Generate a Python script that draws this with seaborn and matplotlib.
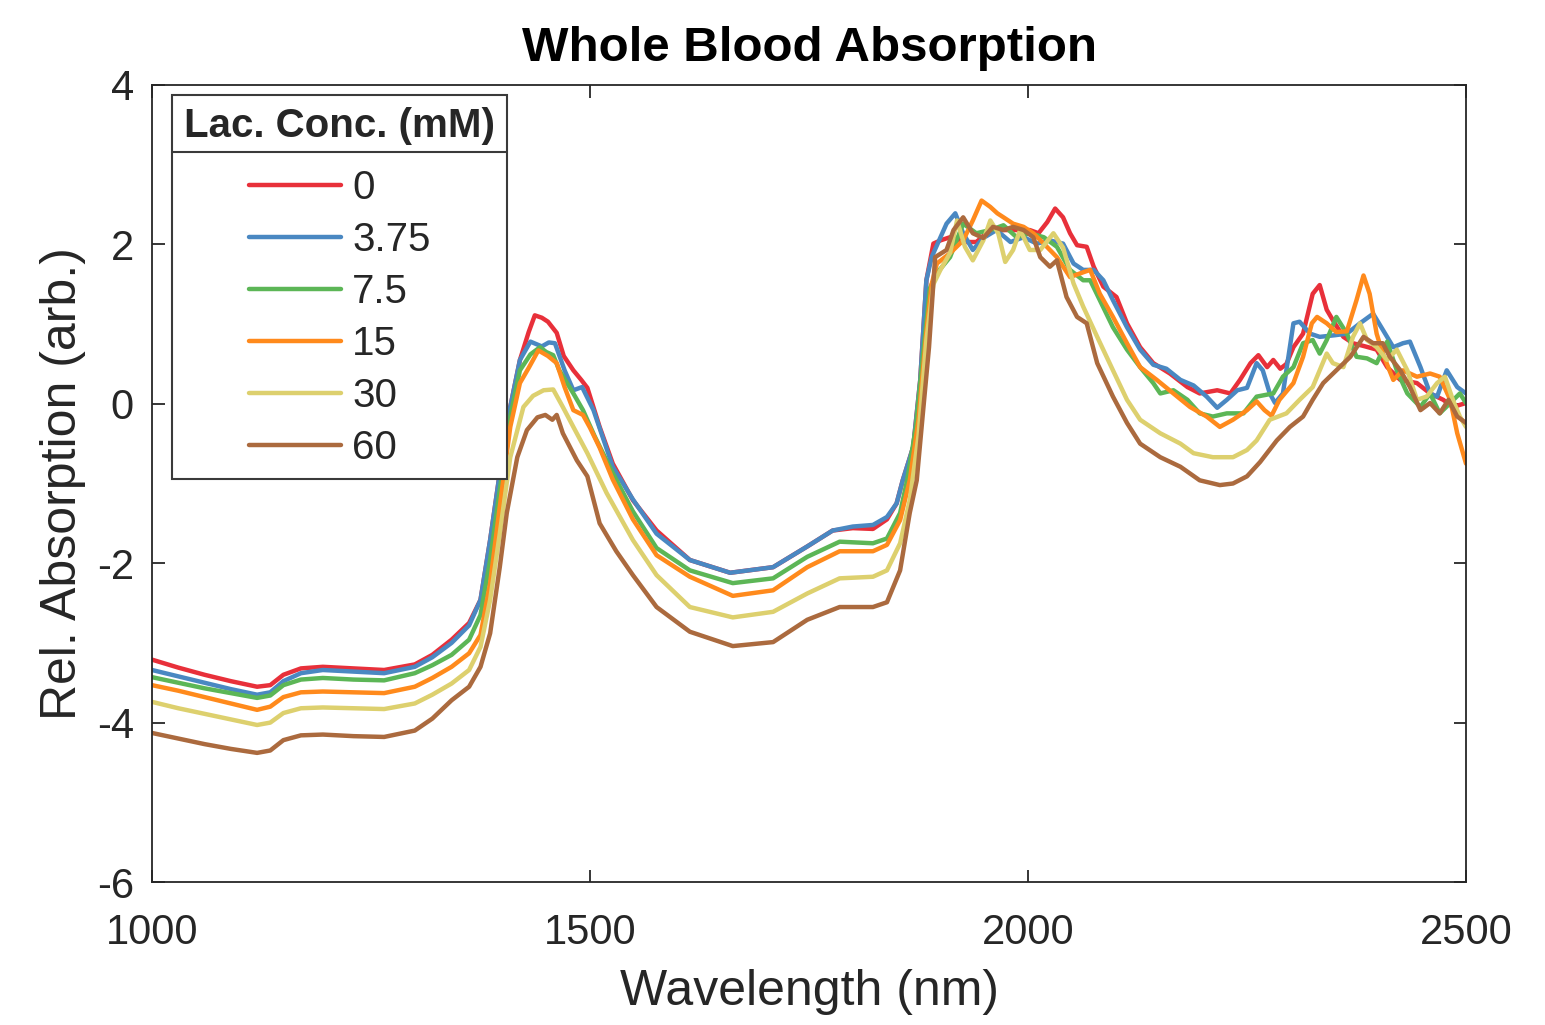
import matplotlib
matplotlib.use("Agg")
import matplotlib.pyplot as plt
import seaborn as sns
import pandas as pd
from matplotlib.lines import Line2D

# ---------------- data ----------------
concentrations = ["0", "3.75", "7.5", "15", "30", "60"]
colors = ["#E8303A", "#4A88C2", "#5CB656", "#FF8A1C", "#DDD06E", "#AB6A3E"]

wl_0 = [1000, 1030, 1060, 1090, 1120, 1135, 1150, 1170, 1195, 1230, 1265, 1300, 1320, 1342, 1362, 1375, 1386, 1397,
        1409, 1420, 1430, 1437, 1445, 1452, 1462, 1470, 1481, 1490, 1497, 1511, 1526, 1549, 1576, 1614, 1660, 1709,
        1748, 1777, 1800, 1823, 1839, 1850, 1857, 1869, 1877, 1884, 1892, 1900, 1911, 1930, 1941, 1957, 1987, 2002,
        2012, 2022, 2031, 2040, 2048, 2056, 2067, 2075, 2086, 2101, 2113, 2128, 2143, 2162, 2182, 2196, 2216, 2231,
        2242, 2254, 2263, 2273, 2280, 2288, 2295, 2303, 2314, 2325, 2333, 2341, 2348, 2360, 2371, 2385, 2398, 2410,
        2425, 2444, 2459, 2474, 2485, 2500]
abs_0 = [-3.21, -3.31, -3.40, -3.48, -3.55, -3.53, -3.40, -3.32, -3.30, -3.32, -3.34, -3.27, -3.15, -2.96, -2.75,
         -2.46, -1.71, -0.87, -0.04, 0.55, 0.90, 1.11, 1.08, 1.03, 0.89, 0.60, 0.42, 0.30, 0.20, -0.29, -0.75, -1.21,
         -1.59, -1.96, -2.12, -2.05, -1.79, -1.59, -1.56, -1.57, -1.45, -1.25, -0.96, -0.54, 0.30, 1.55, 2.01, 2.05,
         2.09, 2.03, 2.03, 2.18, 2.18, 2.18, 2.14, 2.28, 2.45, 2.34, 2.14, 1.99, 1.97, 1.72, 1.47, 1.34, 1.01, 0.71,
         0.51, 0.38, 0.21, 0.13, 0.17, 0.13, 0.30, 0.51, 0.61, 0.46, 0.55, 0.44, 0.50, 0.71, 0.88, 1.38, 1.49, 1.18,
         1.05, 0.84, 0.76, 0.72, 0.68, 0.46, 0.30, 0.26, 0.13, 0.05, -0.04, 0.01]

wl_375 = [1000, 1030, 1060, 1090, 1120, 1135, 1150, 1170, 1195, 1230, 1265, 1300, 1320, 1342, 1362, 1375, 1386, 1397,
          1409, 1420, 1432, 1445, 1453, 1460, 1471, 1481, 1491, 1504, 1526, 1549, 1576, 1614, 1660, 1709, 1748, 1777,
          1800, 1823, 1839, 1850, 1857, 1869, 1877, 1884, 1890, 1907, 1917, 1926, 1937, 1949, 1964, 1980, 1995, 2010,
          2025, 2040, 2052, 2063, 2075, 2086, 2097, 2113, 2128, 2143, 2158, 2174, 2189, 2204, 2216, 2227, 2239, 2250,
          2261, 2268, 2276, 2282, 2291, 2303, 2310, 2322, 2333, 2350, 2364, 2379, 2394, 2405, 2417, 2428, 2436, 2448,
          2459, 2467, 2478, 2490, 2500]
abs_375 = [-3.34, -3.42, -3.50, -3.58, -3.65, -3.62, -3.48, -3.38, -3.34, -3.36, -3.38, -3.30, -3.18, -3.00, -2.78,
           -2.46, -1.71, -0.87, -0.04, 0.55, 0.78, 0.72, 0.77, 0.76, 0.42, 0.17, 0.21, -0.08, -0.79, -1.20, -1.63,
           -1.96, -2.12, -2.05, -1.79, -1.59, -1.54, -1.52, -1.42, -1.25, -0.96, -0.54, 0.30, 1.55, 1.84, 2.26, 2.39,
           2.14, 1.93, 2.08, 2.18, 2.03, 2.09, 2.01, 2.05, 2.01, 1.76, 1.68, 1.68, 1.55, 1.30, 0.96, 0.68, 0.49, 0.44,
           0.30, 0.23, 0.09, -0.05, 0.05, 0.17, 0.20, 0.51, 0.42, 0.13, 0.01, 0.13, 1.01, 1.03, 0.88, 0.84, 0.86, 0.88,
           1.01, 1.13, 0.93, 0.71, 0.76, 0.78, 0.46, 0.13, 0.09, 0.42, 0.21, 0.13]

wl_75 = [1000, 1030, 1060, 1090, 1120, 1135, 1150, 1170, 1195, 1230, 1265, 1300, 1320, 1342, 1362, 1375, 1386, 1397,
         1409, 1420, 1432, 1443, 1450, 1458, 1465, 1481, 1492, 1505, 1526, 1549, 1576, 1614, 1663, 1709, 1748, 1785,
         1823, 1839, 1854, 1862, 1872, 1880, 1888, 1896, 1911, 1926, 1941, 1957, 1972, 1987, 2002, 2018, 2033, 2048,
         2063, 2071, 2082, 2097, 2113, 2128, 2143, 2151, 2166, 2182, 2196, 2211, 2227, 2246, 2261, 2280, 2291, 2303,
         2314, 2325, 2333, 2341, 2352, 2364, 2375, 2387, 2398, 2410, 2421, 2433, 2448, 2459, 2470, 2482, 2493, 2500]
abs_75 = [-3.43, -3.50, -3.57, -3.63, -3.69, -3.66, -3.53, -3.46, -3.44, -3.46, -3.47, -3.38, -3.28, -3.15, -2.96,
          -2.65, -1.96, -1.08, -0.16, 0.42, 0.62, 0.71, 0.65, 0.61, 0.42, 0.13, -0.08, -0.40, -0.87, -1.35, -1.81,
          -2.09, -2.25, -2.19, -1.92, -1.73, -1.75, -1.69, -1.37, -0.96, -0.30, 0.60, 1.45, 1.64, 1.84, 2.26, 2.14,
          2.18, 2.24, 2.09, 2.14, 2.09, 1.97, 1.68, 1.55, 1.55, 1.30, 0.96, 0.68, 0.46, 0.26, 0.13, 0.17, 0.05, -0.12,
          -0.16, -0.12, -0.12, 0.09, 0.13, 0.34, 0.46, 0.76, 0.80, 0.63, 0.80, 1.09, 0.88, 0.59, 0.57, 0.51, 0.78, 0.42,
          0.13, -0.04, 0.13, -0.12, 0.01, 0.13, 0.01]

wl_15 = [1000, 1030, 1060, 1090, 1120, 1135, 1150, 1170, 1195, 1230, 1265, 1300, 1320, 1342, 1362, 1375, 1386, 1397,
         1409, 1420, 1430, 1441, 1452, 1462, 1471, 1481, 1492, 1500, 1511, 1526, 1549, 1576, 1614, 1663, 1709, 1748,
         1785, 1823, 1839, 1854, 1865, 1875, 1884, 1890, 1896, 1911, 1926, 1937, 1947, 1957, 1965, 1972, 1983, 1995,
         2006, 2018, 2033, 2048, 2063, 2071, 2082, 2097, 2113, 2128, 2147, 2166, 2185, 2204, 2219, 2234, 2250, 2261,
         2270, 2278, 2287, 2303, 2314, 2324, 2330, 2341, 2352, 2364, 2375, 2383, 2390, 2398, 2405, 2417, 2428, 2444,
         2459, 2470, 2482, 2490, 2500]
abs_15 = [-3.53, -3.60, -3.68, -3.76, -3.84, -3.80, -3.68, -3.62, -3.61, -3.62, -3.63, -3.55, -3.44, -3.30, -3.13,
          -2.90, -2.25, -1.29, -0.29, 0.26, 0.45, 0.67, 0.60, 0.51, 0.21, -0.08, -0.14, -0.30, -0.55, -0.95, -1.45,
          -1.90, -2.17, -2.41, -2.34, -2.05, -1.85, -1.85, -1.77, -1.46, -0.96, -0.20, 0.90, 1.50, 1.76, 1.89, 2.05,
          2.30, 2.55, 2.47, 2.39, 2.34, 2.26, 2.22, 2.14, 2.01, 1.84, 1.59, 1.65, 1.68, 1.38, 1.09, 0.76, 0.46, 0.30,
          0.13, -0.04, -0.16, -0.29, -0.20, -0.08, 0.03, -0.08, -0.15, 0.05, 0.26, 0.59, 1.01, 1.09, 1.01, 0.90, 0.91,
          1.30, 1.61, 1.38, 0.88, 0.63, 0.30, 0.42, 0.34, 0.38, 0.34, 0.05, -0.37, -0.75]

wl_30 = [1000, 1030, 1060, 1090, 1120, 1135, 1150, 1170, 1195, 1230, 1265, 1300, 1320, 1342, 1362, 1375, 1386, 1397,
         1409, 1424, 1435, 1447, 1458, 1469, 1481, 1497, 1519, 1549, 1576, 1614, 1663, 1709, 1748, 1785, 1823, 1839,
         1854, 1865, 1875, 1884, 1892, 1900, 1911, 1919, 1928, 1937, 1949, 1957, 1966, 1974, 1983, 1991, 2002, 2014,
         2029, 2040, 2052, 2063, 2079, 2097, 2113, 2128, 2151, 2174, 2189, 2211, 2234, 2250, 2261, 2276, 2295, 2310,
         2325, 2341, 2348, 2360, 2371, 2379, 2387, 2398, 2410, 2421, 2433, 2444, 2455, 2467, 2476, 2485, 2493, 2500]
abs_30 = [-3.74, -3.82, -3.89, -3.96, -4.03, -4.00, -3.88, -3.82, -3.81, -3.82, -3.83, -3.76, -3.65, -3.51, -3.34,
          -3.05, -2.46, -1.63, -0.67, -0.04, 0.10, 0.17, 0.18, -0.04, -0.29, -0.62, -1.12, -1.71, -2.15, -2.55, -2.68,
          -2.61, -2.38, -2.19, -2.17, -2.09, -1.75, -1.21, -0.40, 0.80, 1.50, 1.68, 1.89, 2.30, 1.97, 1.80, 2.05, 2.30,
          2.14, 1.78, 1.93, 2.18, 1.93, 1.93, 2.14, 1.96, 1.51, 1.22, 0.84, 0.42, 0.05, -0.20, -0.37, -0.50, -0.62,
          -0.67, -0.67, -0.58, -0.46, -0.20, -0.12, 0.05, 0.21, 0.63, 0.51, 0.46, 0.84, 1.01, 0.80, 0.71, 0.55, 0.68,
          0.42, 0.05, 0.09, 0.26, 0.34, 0.05, -0.16, -0.29]

wl_60 = [1000, 1030, 1060, 1090, 1120, 1135, 1150, 1170, 1195, 1230, 1265, 1300, 1320, 1342, 1362, 1375, 1386, 1397,
         1405, 1417, 1428, 1440, 1449, 1457, 1462, 1469, 1485, 1497, 1511, 1530, 1549, 1576, 1614, 1663, 1709, 1748,
         1785, 1823, 1839, 1854, 1865, 1873, 1880, 1887, 1894, 1907, 1915, 1926, 1937, 1949, 1960, 1972, 1983, 1995,
         2006, 2014, 2025, 2033, 2044, 2056, 2067, 2079, 2097, 2113, 2128, 2151, 2174, 2196, 2219, 2234, 2250, 2265,
         2284, 2299, 2314, 2325, 2337, 2352, 2368, 2383, 2394, 2405, 2413, 2425, 2436, 2448, 2459, 2470, 2480, 2490,
         2500]
abs_60 = [-4.13, -4.20, -4.27, -4.33, -4.38, -4.35, -4.22, -4.16, -4.15, -4.17, -4.18, -4.10, -3.95, -3.72, -3.55,
          -3.30, -2.88, -2.05, -1.37, -0.67, -0.33, -0.17, -0.14, -0.20, -0.14, -0.37, -0.71, -0.91, -1.50, -1.85,
          -2.15, -2.55, -2.86, -3.04, -2.99, -2.71, -2.55, -2.55, -2.49, -2.09, -1.37, -0.96, -0.12, 0.71, 1.84, 1.93,
          2.18, 2.34, 2.14, 2.08, 2.22, 2.18, 2.22, 2.18, 2.09, 1.84, 1.72, 1.80, 1.34, 1.09, 1.01, 0.51, 0.09, -0.24,
          -0.50, -0.67, -0.79, -0.96, -1.02, -1.00, -0.91, -0.73, -0.46, -0.29, -0.16, 0.05, 0.26, 0.42, 0.59, 0.84,
          0.76, 0.76, 0.59, 0.42, 0.21, -0.08, 0.01, -0.12, 0.05, -0.16, -0.24]

x_ticks = [1000, 1500, 2000, 2500]
y_ticks = [-6, -4, -2, 0, 2, 4]

# ---------------- build frame ----------------
series = [(wl_0, abs_0), (wl_375, abs_375), (wl_75, abs_75), (wl_15, abs_15), (wl_30, abs_30), (wl_60, abs_60)]
rows = []
for conc, (w, a) in zip(concentrations, series):
    for xi, yi in zip(w, a):
        rows.append({"Wavelength": xi, "Absorption": yi, "Conc": conc})
df = pd.DataFrame(rows)

sns.set_theme(style="white")
plt.rcParams["font.family"] = ["Liberation Sans", "DejaVu Sans"]

fig = plt.figure(figsize=(15.45, 10.25), dpi=100)
ax = fig.add_axes([152 / 1545, 1 - 882 / 1025, (1466 - 152) / 1545, (882 - 85) / 1025])

sns.lineplot(data=df, x="Wavelength", y="Absorption", hue="Conc", hue_order=concentrations,
             palette=colors, estimator=None, sort=False, linewidth=3.2, legend=False, ax=ax)

ax.set_xlim(1000, 2500)
ax.set_ylim(-6, 4)
ax.set_xticks(x_ticks)
ax.set_yticks(y_ticks)
ax.set_xticklabels([str(t) for t in x_ticks])
ax.set_yticklabels([str(t) for t in y_ticks])
ax.tick_params(direction="in", length=9, width=1.3, colors="#262626", labelsize=30,
               top=True, right=True, bottom=True, left=True)
ax.tick_params(axis="x", pad=22)
ax.tick_params(axis="y", pad=13)
for s in ax.spines.values():
    s.set_color("#262626")
    s.set_linewidth(1.3)

ax.set_xlabel("Wavelength (nm)", fontsize=36, color="#262626", labelpad=12)
ax.set_ylabel("Rel. Absorption (arb.)", fontsize=36, color="#262626", labelpad=8)
ax.set_title("Whole Blood Absorption", fontsize=35.5, fontweight="bold", color="black", pad=17)

handles = [Line2D([0], [0], color=c, lw=3.2) for c in colors]
leg = ax.legend(handles, concentrations, title="Lac. Conc. (mM)", loc="upper left",
                bbox_to_anchor=(20 / 1314, 1 - 10 / 797), borderaxespad=0, fontsize=29, title_fontsize=29,
                frameon=True, fancybox=False, framealpha=1, edgecolor="#3a3a3a",
                handlelength=2.3, handletextpad=0.27, labelspacing=0.35, borderpad=0.3)
leg.get_title().set_fontweight("bold")
leg.get_frame().set_linewidth(1.5)
leg._legend_box.sep = 17

fig.canvas.draw()
renderer = fig.canvas.get_renderer()
lb = leg.get_window_extent(renderer)
tb = leg.get_title().get_window_extent(renderer)
ysep = tb.y0 - 7
inv = fig.transFigure.inverted()
(x0f, yf), (x1f, _) = inv.transform([(lb.x0, ysep), (lb.x1, ysep)])
fig.add_artist(Line2D([x0f, x1f], [yf, yf], color="#3a3a3a", lw=1.5, transform=fig.transFigure))

fig.savefig("out.png", dpi=100)
